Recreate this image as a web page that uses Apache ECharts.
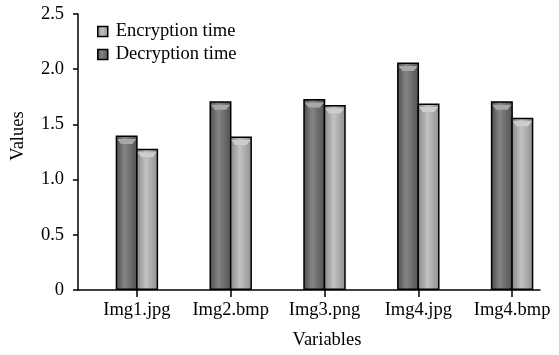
<!DOCTYPE html>
<html>
<head>
<meta charset="utf-8">
<script src="https://cdn.jsdelivr.net/npm/echarts@6/dist/echarts.min.js"></script>
<style>html,body{margin:0;padding:0;background:#fff;}#c{width:559px;height:355px;}</style>
</head>
<body>
<div id="c"></div>
<script>
var categories = ['Img1.jpg', 'Img2.bmp', 'Img3.png', 'Img4.jpg', 'Img4.bmp'];
var decryptionTime = [1.40, 1.71, 1.73, 2.06, 1.71];
var encryptionTime = [1.28, 1.39, 1.675, 1.69, 1.56];
var yTicks = { min: 0, max: 2.5, interval: 0.5 };

var FONT = 'Liberation Serif';
function grad(stops) {
  return { type: 'linear', x: 0, y: 0, x2: 1, y2: 0,
    colorStops: stops.map(function (s) { return { offset: s[0], color: s[1] }; }) };
}
var darkFill = grad([[0, '#4a4a4a'], [0.4, '#858585'], [1, '#505050']]);
var lightFill = grad([[0, '#858585'], [0.45, '#c2c2c2'], [1, '#8e8e8e']]);
var BW = 22;
var bevel = 'path://M0,0 L20,0 L16,4 L4,4 Z';

var chart = echarts.init(document.getElementById('c'));
chart.setOption({
  animation: false,
  backgroundColor: '#fff',
  textStyle: { fontFamily: FONT, color: '#000' },
  legend: {
    left: 92, top: 17, orient: 'vertical', itemGap: 4,
    itemWidth: 10, itemHeight: 10, icon: 'rect',
    textStyle: { fontFamily: FONT, fontSize: 18.5, color: '#000', lineHeight: 18, padding: [0, 0, 0, 3] },
    data: [
      { name: 'Encryption time', itemStyle: { color: lightFill, borderColor: '#000', borderWidth: 1.5 } },
      { name: 'Decryption time', itemStyle: { color: darkFill, borderColor: '#000', borderWidth: 1.5 } }
    ]
  },
  grid: [
    { left: 90, width: 475, top: 14, height: 276 },
    { left: 78, width: 462, top: 14, height: 276 }
  ],
  xAxis: [
    {
      type: 'category', data: categories, gridIndex: 0,
      axisLine: { show: false },
      axisTick: { show: true, alignWithLabel: true, length: 7, lineStyle: { color: '#000', width: 1.5 } },
      axisLabel: { fontFamily: FONT, fontSize: 18.5, color: '#000', margin: 11, interval: 0, hideOverlap: false },
      name: 'Variables', nameLocation: 'middle', nameGap: 41,
      nameTextStyle: { fontFamily: FONT, fontSize: 18.5, color: '#000', padding: [0, 0, 0, 5] }
    },
    {
      type: 'value', gridIndex: 1, min: 0, max: 1,
      axisLine: { show: true, lineStyle: { color: '#000', width: 1.5 } },
      axisTick: { show: false }, axisLabel: { show: false }, splitLine: { show: false }
    }
  ],
  yAxis: [
    {
      type: 'value', gridIndex: 0, min: yTicks.min, max: yTicks.max, interval: yTicks.interval,
      offset: 12,
      axisLine: { show: true, lineStyle: { color: '#000', width: 1.5 } },
      axisTick: { show: true, length: 5, lineStyle: { color: '#000', width: 1.5 } },
      splitLine: { show: false },
      axisLabel: {
        fontFamily: FONT, fontSize: 18.5, color: '#000', margin: 14,
        formatter: function (v) { return v === 0 ? '0' : v.toFixed(1); }
      },
      name: 'Values', nameLocation: 'middle', nameGap: 50,
      nameTextStyle: { fontFamily: FONT, fontSize: 18.5, color: '#000', padding: [0, 0, 0, 32] }
    },
    { type: 'value', gridIndex: 1, min: 0, max: 1, show: false }
  ],
  series: [
    {
      name: 'Decryption time', type: 'bar', data: decryptionTime,
      barWidth: BW, barGap: '-7%',
      itemStyle: { color: darkFill, borderColor: '#000', borderWidth: 1.5 }
    },
    {
      name: 'Encryption time', type: 'bar', data: encryptionTime,
      barWidth: BW, barGap: '-7%',
      itemStyle: { color: lightFill, borderColor: '#000', borderWidth: 1.5 }
    },
    {
      name: 'dTop', type: 'pictorialBar', data: decryptionTime, z: 5,
      barWidth: BW, barGap: '-7%',
      symbol: bevel, symbolSize: [BW - 3, 5], symbolPosition: 'end', symbolOffset: [0, 3.5],
      itemStyle: { color: '#a8a8a8' }, silent: true
    },
    {
      name: 'eTop', type: 'pictorialBar', data: encryptionTime, z: 5,
      barWidth: BW, barGap: '-7%',
      symbol: bevel, symbolSize: [BW - 3, 5], symbolPosition: 'end', symbolOffset: [0, 3.5],
      itemStyle: { color: '#cdcdcd' }, silent: true
    }
  ]
});
</script>
</body>
</html>
